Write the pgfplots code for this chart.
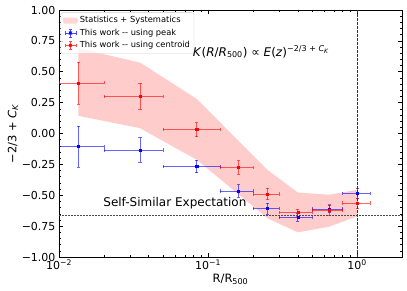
\documentclass[border=0pt]{standalone}
\usepackage{pgfplots}
\pgfplotsset{compat=1.18}
\usepackage{pgfplotstable}
\usepackage{fontspec}
\setmainfont{DejaVu Sans}
\definecolor{bandpink}{RGB}{255,204,204}
\pgfplotstableread{
x      y       exp    exm     ey
0.0135 0.41    0.0065 0.0035  0.17
0.035  0.30    0.015  0.015   0.105
0.084  0.032   0.036  0.034   0.057
0.16   -0.275  0.04   0.04    0.055
0.25   -0.49   0.05   0.05    0.045
0.40   -0.64   0.10   0.10    0.03
0.65   -0.62   0.15   0.15    0.045
1.0    -0.563  0.22   0.20    0.04
}\centroid
\pgfplotstableread{
x      y       exp    exm     ey
0.0135 -0.105  0.0065 0.0035  0.165
0.035  -0.133  0.015  0.015   0.10
0.084  -0.267  0.036  0.034   0.05
0.16   -0.465  0.04   0.04    0.05
0.25   -0.607  0.05   0.05    0.045
0.40   -0.68   0.10   0.10    0.03
0.65   -0.612  0.15   0.15    0.03
1.0    -0.483  0.22   0.20    0.04
}\peak
\begin{document}
\begin{tikzpicture}
\path[use as bounding box] (-59pt,-34pt) rectangle (348pt,257pt);
\begin{axis}[
  scale only axis, width=343pt, height=247pt,
  xmode=log, xmin=0.01, xmax=2, ymin=-1, ymax=1,
  xtick={0.01,0.1,1},
  xticklabels={10\textsuperscript{−2},10\textsuperscript{−1},10\textsuperscript{0}},
  minor xtick={0.02,0.03,0.04,0.05,0.06,0.07,0.08,0.09,0.2,0.3,0.4,0.5,0.6,0.7,0.8,0.9,2},
  ytick={-1,-0.75,-0.5,-0.25,0,0.25,0.5,0.75,1},
  yticklabels={−1.00,−0.75,−0.50,−0.25,0.00,0.25,0.50,0.75,1.00},
  minor y tick num=4,
  tick align=inside,
  major tick length=4pt, minor tick length=2pt,
  every tick/.style={black, line width=0.5pt},
  tick label style={font=\fontsize{11}{13}\selectfont},
  xticklabel style={yshift=1pt},
  axis line style={line width=0.6pt},
  xlabel={R/R\textsubscript{500}},
  ylabel={−2/3 + \textit{C}\textsubscript{\textit{K}}},
  every axis x label/.style={at={([yshift=-22pt]axis description cs:0.5,0)},anchor=center,font=\fontsize{11.5}{13}\selectfont},
  every axis y label/.style={at={([xshift=-46pt]axis description cs:0,0.5)},rotate=90,anchor=center,font=\fontsize{11.5}{13}\selectfont},
  legend cell align=left,
  legend style={at={(axis description cs:0.005,0.99)}, anchor=north west,
    font=\fontsize{8.3}{10}\selectfont, draw=black!20, rounded corners=2pt,
    fill=white, fill opacity=0.8, text opacity=1, inner sep=2pt, row sep=0.6pt},
  clip=true,
]
\addplot[fill=bandpink, draw=none,
  legend image code/.code={\fill[bandpink] (0pt,-3pt) rectangle (15pt,3pt);}]
  coordinates {(0.0135,0.69) (0.035,0.574) (0.084,0.28) (0.25,-0.294) (0.4,-0.478) (0.65,-0.496) (1.0,-0.456)
               (1.0,-0.67) (0.65,-0.755) (0.4,-0.80) (0.25,-0.686) (0.084,-0.213) (0.035,0.043) (0.0135,0.143)} -- cycle;
\addlegendentry{Statistics + Systematics}
\addplot[blue, only marks, mark=square*, mark size=1.1pt,
  error bars/.cd, x dir=both, x explicit, y dir=both, y explicit,
  error bar style={line width=0.7pt, opacity=0.6},
  error mark options={rotate=90, mark size=1.6pt, line width=0.6pt, opacity=0.6},
  /pgfplots/legend image code/.code={
    \draw[blue, line width=0.7pt, opacity=0.7] (2pt,0pt)--(13pt,0pt) (7.5pt,-4pt)--(7.5pt,4pt)
      (2pt,-1.6pt)--(2pt,1.6pt) (13pt,-1.6pt)--(13pt,1.6pt) (5.9pt,4pt)--(9.1pt,4pt) (5.9pt,-4pt)--(9.1pt,-4pt);
    \fill[blue] (6.4pt,-1.1pt) rectangle (8.6pt,1.1pt);}]
  table[x=x, y=y, x error plus=exp, x error minus=exm, y error=ey] {\peak};
\addlegendentry{This work -{}- using peak}
\addplot[red, only marks, mark=square*, mark size=1.1pt,
  error bars/.cd, x dir=both, x explicit, y dir=both, y explicit,
  error bar style={line width=0.7pt, opacity=0.6},
  error mark options={rotate=90, mark size=1.6pt, line width=0.6pt, opacity=0.6},
  /pgfplots/legend image code/.code={
    \draw[red, line width=0.7pt, opacity=0.7] (2pt,0pt)--(13pt,0pt) (7.5pt,-4pt)--(7.5pt,4pt)
      (2pt,-1.6pt)--(2pt,1.6pt) (13pt,-1.6pt)--(13pt,1.6pt) (5.9pt,4pt)--(9.1pt,4pt) (5.9pt,-4pt)--(9.1pt,-4pt);
    \fill[red] (6.4pt,-1.1pt) rectangle (8.6pt,1.1pt);}]
  table[x=x, y=y, x error plus=exp, x error minus=exm, y error=ey] {\centroid};
\addlegendentry{This work -{}- using centroid}
\addplot[black!70, line width=0.8pt, dash pattern=on 1.8pt off 1.2pt, forget plot]
  coordinates {(0.01,-0.6667) (2,-0.6667)};
\addplot[black!80, line width=0.8pt, dash pattern=on 2.5pt off 1.5pt, forget plot]
  coordinates {(1,-1) (1,1)};
\node[anchor=west, font=\fontsize{12}{14}\selectfont, inner sep=0pt] at (axis cs:0.0198,-0.565) {Self-Similar Expectation};
\node[anchor=west, font=\fontsize{12}{14}\selectfont, inner sep=0pt] at (axis cs:0.079,0.66)
  {\textit{K}(\textit{R}/\textit{R}\textsubscript{500}) ∝ \textit{E}(\textit{z})\textsuperscript{−2/3 + \textit{C}\textsubscript{\textit{K}}}};
\end{axis}
\end{tikzpicture}
\end{document}
